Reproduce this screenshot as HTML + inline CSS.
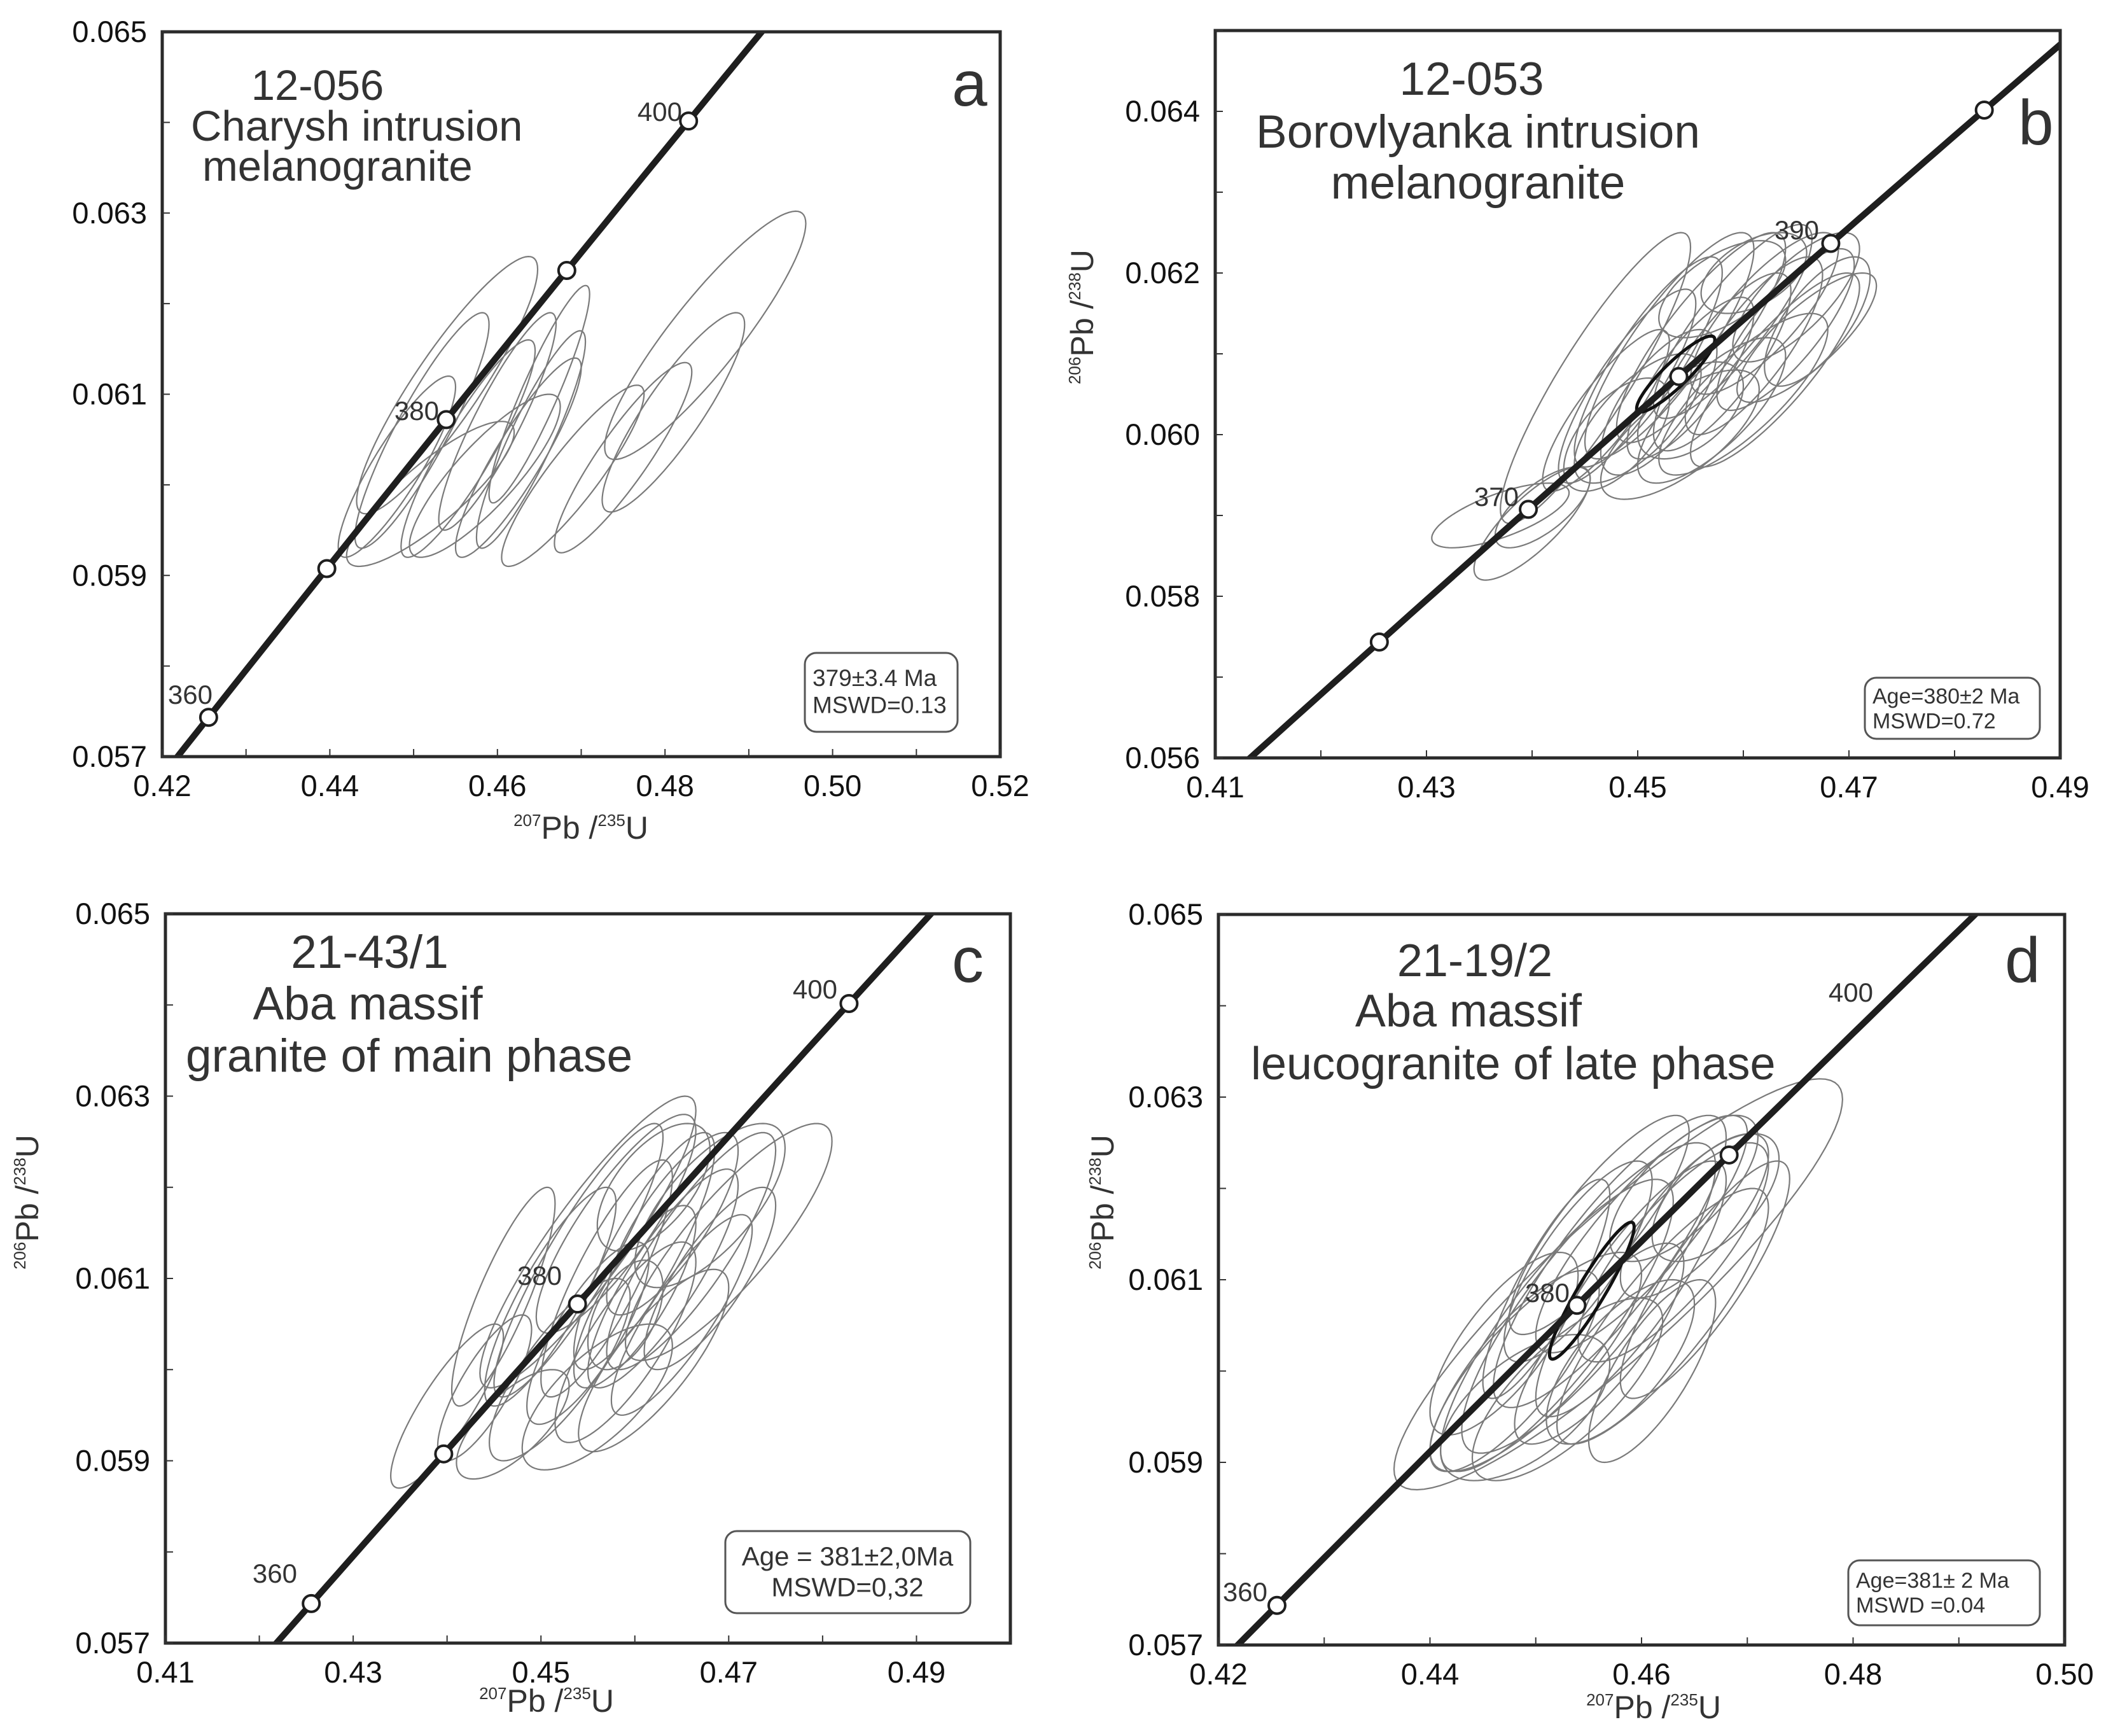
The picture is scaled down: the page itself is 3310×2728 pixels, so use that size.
<!DOCTYPE html>
<html><head><meta charset="utf-8"><style>
html,body{margin:0;padding:0;background:#fff;width:3310px;height:2728px;overflow:hidden;}
svg{display:block;font-family:"Liberation Sans",Arial,sans-serif;}
</style></head><body>
<svg id="fig" width="3310" height="2728" viewBox="0 0 3310 2728" xmlns="http://www.w3.org/2000/svg"></svg>
<script>
// ---------- data ----------
const ellipsesA = [
 [0.4848,0.06165,0.0120,0.00137,0.9],
 [0.4810,0.0608,0.0085,0.00110,0.88],
 [0.4750,0.0603,0.0082,0.00105,0.9],
 [0.4690,0.0601,0.0085,0.00100,0.9],
 [0.4625,0.0603,0.0075,0.00110,0.9],
 [0.4600,0.0607,0.0070,0.00120,0.9],
 [0.4540,0.0611,0.0108,0.00142,0.9],
 [0.4510,0.0606,0.0080,0.00130,0.9],
 [0.4565,0.0604,0.0080,0.00120,0.9],
 [0.4520,0.0599,0.0100,0.00080,0.85],
 [0.4585,0.0601,0.0090,0.00090,0.85],
 [0.4650,0.0610,0.0060,0.00120,0.92],
 [0.4640,0.0605,0.0065,0.00120,0.9],
 [0.4480,0.0602,0.0070,0.00100,0.88]
];
const ellipsesB = [
 [0.437,0.0590,0.0065,0.0004,0.7],[0.440,0.0589,0.0055,0.0007,0.8],[0.441,0.0591,0.0045,0.0005,0.7],
 [0.446,0.0607,0.0090,0.0018,0.9],[0.447,0.0603,0.0060,0.0010,0.85],[0.448,0.0600,0.0050,0.0007,0.6],
 [0.449,0.0606,0.0065,0.0012,0.85],[0.450,0.0602,0.0060,0.0008,0.7],[0.451,0.0609,0.0070,0.0013,0.85],
 [0.452,0.0604,0.0055,0.0009,0.7],[0.453,0.0611,0.0080,0.0014,0.85],[0.454,0.0600,0.0075,0.0008,0.7],
 [0.455,0.0607,0.0060,0.0010,0.8],[0.456,0.0612,0.0080,0.0013,0.85],[0.457,0.0603,0.0070,0.0009,0.75],
 [0.458,0.0609,0.0065,0.0011,0.8],[0.459,0.0614,0.0075,0.0012,0.85],[0.460,0.0605,0.0080,0.0010,0.8],
 [0.461,0.0611,0.0065,0.0011,0.8],[0.462,0.0615,0.0070,0.0010,0.8],[0.463,0.0608,0.0080,0.0012,0.85],
 [0.464,0.0613,0.0065,0.0010,0.8],[0.465,0.0617,0.0060,0.0008,0.75],[0.466,0.0612,0.0066,0.0008,0.8],
 [0.467,0.0614,0.0050,0.0008,0.7],[0.458,0.0618,0.0060,0.0006,0.6],[0.461,0.0620,0.0050,0.0005,0.5],
 [0.455,0.0603,0.0050,0.0006,0.5]
];
const meanB = [0.4536,0.06075,0.0037,0.00047,0.9];
const ellipsesC = [
 [0.440,0.0596,0.0060,0.0009,0.85],[0.444,0.0598,0.0050,0.0008,0.8],[0.447,0.0594,0.0060,0.0006,0.7],
 [0.455,0.0614,0.0115,0.0016,0.9],[0.451,0.0608,0.0070,0.0012,0.85],[0.452,0.0600,0.0075,0.0010,0.8],
 [0.454,0.0612,0.0090,0.0015,0.9],[0.455,0.0604,0.0065,0.0010,0.8],[0.456,0.0597,0.0080,0.0008,0.7],
 [0.457,0.0610,0.0070,0.0013,0.85],[0.458,0.0616,0.0085,0.0012,0.85],[0.459,0.0603,0.0075,0.0011,0.8],
 [0.460,0.0608,0.0065,0.0010,0.8],[0.461,0.0613,0.0075,0.0013,0.85],[0.462,0.0601,0.0080,0.0010,0.8],
 [0.463,0.0610,0.0080,0.0012,0.85],[0.464,0.0616,0.0070,0.0010,0.8],[0.465,0.0606,0.0075,0.0011,0.85],
 [0.466,0.0613,0.0090,0.0013,0.85],[0.468,0.0610,0.0070,0.0010,0.8],[0.470,0.0614,0.0110,0.0013,0.85],
 [0.468,0.0618,0.0080,0.0009,0.7],[0.462,0.0620,0.0060,0.0007,0.6],[0.459,0.0606,0.0040,0.0006,0.5],
 [0.446,0.0608,0.0055,0.0012,0.85]
];
const ellipsesD = [
 [0.4578,0.06095,0.0212,0.00225,0.9],[0.452,0.0605,0.0110,0.0016,0.85],[0.455,0.0608,0.0120,0.0017,0.85],
 [0.450,0.0601,0.0100,0.0012,0.8],[0.457,0.0612,0.0110,0.0016,0.85],[0.448,0.0600,0.0080,0.0011,0.8],
 [0.453,0.0598,0.0090,0.0010,0.75],[0.456,0.0603,0.0080,0.0011,0.8],[0.459,0.0609,0.0090,0.0014,0.85],
 [0.460,0.0615,0.0100,0.0013,0.85],[0.462,0.0606,0.0100,0.0014,0.85],[0.463,0.0613,0.0090,0.0012,0.8],
 [0.465,0.0617,0.0070,0.0009,0.75],[0.466,0.0610,0.0080,0.0013,0.85],[0.467,0.0619,0.0060,0.0007,0.6],
 [0.454,0.0612,0.0070,0.0011,0.8],[0.451,0.0609,0.0060,0.0012,0.85],[0.447,0.0603,0.0070,0.0010,0.75],
 [0.458,0.0601,0.0070,0.0009,0.7],[0.461,0.0600,0.0060,0.0010,0.75],[0.456,0.0616,0.0085,0.0012,0.85],
 [0.464,0.0620,0.0070,0.0008,0.7],[0.449,0.0596,0.0080,0.0008,0.6]
];
const meanD = [0.4553,0.06088,0.0040,0.00075,0.93];
const markerAgesA = [360,370,380,390,400];
const markerAgesB = [360,370,380,390,400];
const markerAgesC = [360,370,380,400];
const markerAgesD = [360,380,390];
const xTicksA = ["0.42","0.44","0.46","0.48","0.50","0.52"];
const xTicksB = ["0.41","0.43","0.45","0.47","0.49"];
const xTicksC = ["0.41","0.43","0.45","0.47","0.49"];
const xTicksD = ["0.42","0.44","0.46","0.48","0.50"];
const yTicksA = ["0.057","0.059","0.061","0.063","0.065"];
const yTicksB = ["0.056","0.058","0.060","0.062","0.064"];
const yTicksC = ["0.057","0.059","0.061","0.063","0.065"];
const yTicksD = ["0.057","0.059","0.061","0.063","0.065"];

// ---------- layout ----------
const NS="http://www.w3.org/2000/svg";
const svg=document.getElementById('fig');
const L235=9.8485e-10, L238=1.55125e-10;
function mk(tag,attrs,parent){const e=document.createElementNS(NS,tag);for(const k in attrs)e.setAttribute(k,attrs[k]);(parent||svg).appendChild(e);return e;}

const panels=[
 {id:'a',L:255,R:1572,T:50,B:1189,x0:0.42,x1:0.52,y0:0.057,y1:0.065,ell:ellipsesA,mean:null,ages:markerAgesA,xt:xTicksA,yt:yTicksA,
  title:[["12-056",499,157,"middle"],["Charysh intrusion",300,221,"start"],["melanogranite",318,284,"start"]],tfs:67,
  letter:["a",1496,166],
  ageLabels:[["400",1072,190],["380",690,660],["360",334,1106]],
  box:[1265,1026,240,124,["379±3.4 Ma","MSWD=0.13"],1277,37,"start"],
  xtitle:[913,1318],ytitle:null},
 {id:'b',L:1910,R:3238,T:48,B:1191,x0:0.41,x1:0.49,y0:0.056,y1:0.065,ell:ellipsesB,mean:meanB,ages:markerAgesB,xt:xTicksB,yt:yTicksB,
  title:[["12-053",2313,149,"middle"],["Borovlyanka intrusion",2323,232,"middle"],["melanogranite",2323,312,"middle"]],tfs:73,
  letter:["b",3172,227],
  ageLabels:[["390",2859,376],["370",2387,795]],
  box:[2931,1065,275,96,["Age=380±2 Ma","MSWD=0.72"],2943,34,"start"],
  xtitle:null,ytitle:[1718,498]},
 {id:'c',L:260,R:1588,T:1436,B:2582,x0:0.41,x1:0.50,y0:0.057,y1:0.065,ell:ellipsesC,mean:null,ages:markerAgesC,xt:xTicksC,yt:yTicksC,
  title:[["21-43/1",581,1521,"middle"],["Aba massif",578,1602,"middle"],["granite of main phase",292,1684,"start"]],tfs:73,
  letter:["c",1496,1543],
  ageLabels:[["400",1316,1569],["380",883,2019],["360",467,2487]],
  box:[1140,2406,385,129,["Age = 381±2,0Ma","MSWD=0,32"],1332,42,"middle"],
  xtitle:[859,2690],ytitle:[60,1889]},
 {id:'d',L:1915,R:3245,T:1437,B:2585,x0:0.42,x1:0.50,y0:0.057,y1:0.065,ell:ellipsesD,mean:meanD,ages:markerAgesD,xt:xTicksD,yt:yTicksD,
  title:[["21-19/2",2318,1534,"middle"],["Aba massif",2308,1613,"middle"],["leucogranite of late phase",1966,1696,"start"]],tfs:72,
  letter:["d",3151,1543],
  ageLabels:[["400",2944,1574],["380",2467,2046],["360",1992,2516]],
  box:[2905,2452,301,102,["Age=381± 2 Ma","MSWD =0.04"],2917,34,"start"],
  xtitle:[2599,2700],ytitle:[1750,1889]}
];

function ellPath(e,sx,sy){
 const [cx,cy,ax,ay,r]=e;const q=Math.sqrt(1-r*r);let d='';
 for(let i=0;i<=96;i++){const th=i/96*2*Math.PI;const x=cx+ax*Math.cos(th);const y=cy+ay*(r*Math.cos(th)+q*Math.sin(th));
  d+=(i?'L':'M')+sx(x).toFixed(1)+' '+sy(y).toFixed(1);}
 return d+'Z';
}

panels.forEach(p=>{
 const g=mk('g',{});
 
 
 const sx=v=>p.L+(v-p.x0)/(p.x1-p.x0)*(p.R-p.L);
 const sy=v=>p.B-(v-p.y0)/(p.y1-p.y0)*(p.B-p.T);
 const cp=mk('clipPath',{id:'clip-'+p.id},g);
 mk('rect',{x:p.L,y:p.T,width:p.R-p.L,height:p.B-p.T},cp);
 const plot=mk('g',{'clip-path':'url(#clip-'+p.id+')'},g);
 
 
 p.ell.forEach((e,i)=>{
  const el=mk('path',{d:ellPath(e,sx,sy),fill:'none',stroke:'#7a7a7a','stroke-width':2.2},plot);
  
  
 });
 if(p.mean){
  const m=mk('path',{d:ellPath(p.mean,sx,sy),fill:'none',stroke:'#111','stroke-width':5},plot);
  
  
 }
 let d='';
 for(let t=300;t<=460;t+=1){const x=Math.exp(L235*t*1e6)-1,y=Math.exp(L238*t*1e6)-1;d+=(t>300?'L':'M')+sx(x).toFixed(1)+' '+sy(y).toFixed(1);}
 const cl=mk('path',{d:d,fill:'none',stroke:'#1e1e1e','stroke-width':10},plot);
 
 
 p.ages.forEach(a=>{
  const x=Math.exp(L235*a*1e6)-1,y=Math.exp(L238*a*1e6)-1;
  const c=mk('circle',{cx:sx(x),cy:sy(y),r:13,fill:'#fff',stroke:'#1e1e1e','stroke-width':4},plot);
  
  
 });
 const fr=mk('rect',{x:p.L,y:p.T,width:p.R-p.L,height:p.B-p.T,fill:'none',stroke:'#2a2a2a','stroke-width':5},g);
 
 
 for(let v=p.x0;v<=p.x1+1e-9;v+=0.01){const x=sx(v);mk('line',{x1:x,x2:x,y1:p.B,y2:p.B-12,stroke:'#333','stroke-width':2},g);}
 for(let v=p.y0;v<=p.y1+1e-9;v+=0.001){const y=sy(v);mk('line',{x1:p.L,x2:p.L+12,y1:y,y2:y,stroke:'#333','stroke-width':2},g);}
 p.xt.forEach(s=>{
  const t=mk('text',{x:sx(parseFloat(s)),y:p.B+62,'font-size':47,'text-anchor':'middle',fill:'#111'},g);t.textContent=s;
  
  
 });
 p.yt.forEach(s=>{
  const t=mk('text',{x:p.L-24,y:sy(parseFloat(s))+16,'font-size':47,'text-anchor':'end',fill:'#111'},g);t.textContent=s;
  
  
 });
 p.title.forEach(l=>{
  const t=mk('text',{x:l[1],y:l[2],'font-size':p.tfs,'text-anchor':l[3],fill:'#333'},g);t.textContent=l[0];
  
  
 });
 const lt=mk('text',{x:p.letter[1],y:p.letter[2],'font-size':100,fill:'#333'},g);lt.textContent=p.letter[0];
 
 
 p.ageLabels.forEach(l=>{
  const t=mk('text',{x:l[1],y:l[2],'font-size':42,'text-anchor':'end',fill:'#333'},g);t.textContent=l[0];
  
  
 });
 const b=p.box;
 const bx=mk('rect',{x:b[0],y:b[1],width:b[2],height:b[3],rx:18,fill:'#fff',stroke:'#555','stroke-width':3},g);
 
 
 b[4].forEach((s,i)=>{
  const t=mk('text',{x:b[5],y:b[1]+b[3]*0.42+i*b[6]*1.15,'font-size':b[6],'text-anchor':b[7],fill:'#333'},g);t.textContent=s;
  
  
 });
 if(p.xtitle){
  const t=mk('text',{x:p.xtitle[0],y:p.xtitle[1],'font-size':50,'text-anchor':'middle',fill:'#333'},g);
  t.innerHTML='<tspan font-size="26" dy="-20">207</tspan><tspan dy="20">Pb /</tspan><tspan font-size="26" dy="-20">235</tspan><tspan dy="20">U</tspan>';
  
  
 }
 if(p.ytitle){
  const t=mk('text',{x:0,y:0,'font-size':50,'text-anchor':'middle',fill:'#333',transform:'translate('+p.ytitle[0]+','+p.ytitle[1]+') rotate(-90)'},g);
  t.innerHTML='<tspan font-size="26" dy="-20">206</tspan><tspan dy="20">Pb /</tspan><tspan font-size="26" dy="-20">238</tspan><tspan dy="20">U</tspan>';
  
  
 }
});
</script>
</body></html>
